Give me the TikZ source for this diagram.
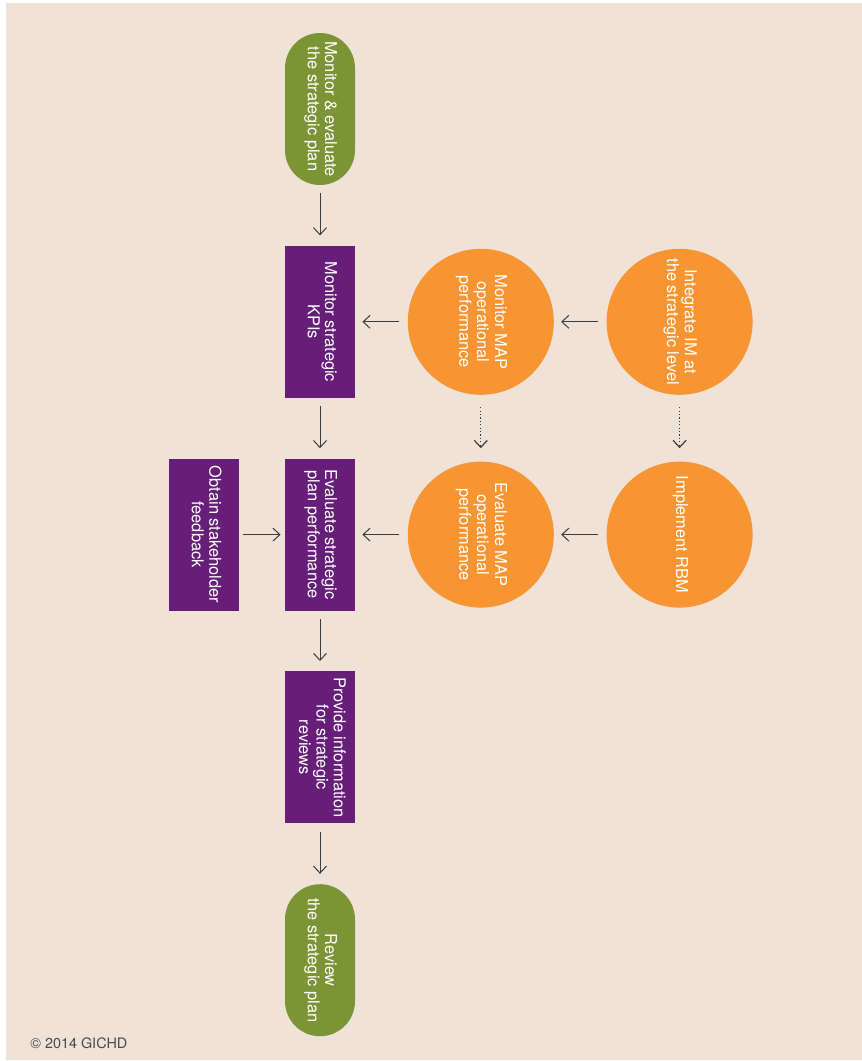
\documentclass[tikz,border=0pt]{standalone}
\usepackage{fontspec}
\setmainfont{TeX Gyre Heros}
\usepackage{tikz}
\usetikzlibrary{arrows.meta, positioning}

\definecolor{pageBeige}{HTML}{F0E2D6}
\definecolor{planGreen}{HTML}{7B9536}
\definecolor{planPurple}{HTML}{661E78}
\definecolor{opOrange}{HTML}{F79532}
\definecolor{lineGray}{HTML}{3C3C3C}
\definecolor{copyGray}{HTML}{4A4A4A}

\newcommand{\sidetext}[1]{\rotatebox{-90}{\begin{tabular}{@{}c@{}}#1\end{tabular}}}

\begin{document}
\begin{tikzpicture}[
    node distance=30pt,
    terminal/.style={rectangle, rounded corners=17.5pt, fill=planGreen, minimum width=35pt, minimum height=76pt, inner sep=0pt, text=white, font=\fontsize{8.2}{8.7}\selectfont},
    box/.style={rectangle, fill=planPurple, minimum width=35pt, minimum height=76pt, inner sep=0pt, text=white, font=\fontsize{8.2}{8.7}\selectfont},
    opcircle/.style={circle, fill=opOrange, minimum size=73pt, inner sep=0pt, text=white, font=\fontsize{8.2}{8.9}\selectfont},
    flow/.style={-{Straight Barb[length=3.5pt,width=6.5pt]}, line width=0.5pt, draw=lineGray, shorten <=4pt, shorten >=3.5pt},
    link/.style={flow, line width=0.6pt, dash pattern=on 0.6pt off 1.1pt}
]
% Page
\useasboundingbox (0,0) rectangle (431pt,-530.5pt);
\fill[white] (0,0) rectangle (431pt,-530.5pt);
\fill[pageBeige] (3pt,-1.5pt) rectangle (431pt,-530pt);

% Strategic column
\node[terminal] (start) at (160pt,-54.5pt) {\sidetext{Monitor \& evaluate\\the strategic plan}};
\node[box, below=of start] (kpi) {\sidetext{Monitor strategic\\KPIs}};
\node[box, below=of kpi] (eval) {\sidetext{Evaluate strategic\\plan performance}};
\node[box, below=of eval] (provide) {\sidetext{Provide information\\for strategic\\reviews}};
\node[terminal, below=of provide] (review) {\sidetext{Review\\the strategic plan}};
\node[box, left=22.5pt of eval] (feedback) {\sidetext{Obtain stakeholder\\feedback}};

% Operational circles
\node[opcircle, right=26pt of kpi] (mmap) {\sidetext{Monitor MAP\\operational\\performance}};
\node[opcircle, right=26pt of mmap] (integrate) {\sidetext{Integrate IM at\\the strategic level}};
\node[opcircle, right=26pt of eval] (emap) {\sidetext{Evaluate MAP\\operational\\performance}};
\node[opcircle, right=26pt of emap] (rbm) {\sidetext{Implement RBM}};

\node[anchor=west, inner sep=0pt, text=copyGray, font=\fontsize{7.2}{8}\selectfont] (copy) at (15pt,-521.5pt) {© 2014 GICHD};

% Connections
\foreach \from/\to in {start/kpi, kpi/eval, eval/provide, provide/review}
  \draw[flow, shorten >=5pt] (\from) -- (\to);
\draw[flow] (mmap) -- (kpi);
\draw[flow] (integrate) -- (mmap);
\draw[flow] (emap) -- (eval);
\draw[flow] (rbm) -- (emap);
\draw[flow, shorten <=1.5pt, shorten >=2pt] (feedback) -- (eval);
\draw[link, shorten <=6pt, shorten >=6.5pt] (mmap) -- (emap);
\draw[link, shorten <=6pt, shorten >=6.5pt] (integrate) -- (rbm);

\end{tikzpicture}
\end{document}
